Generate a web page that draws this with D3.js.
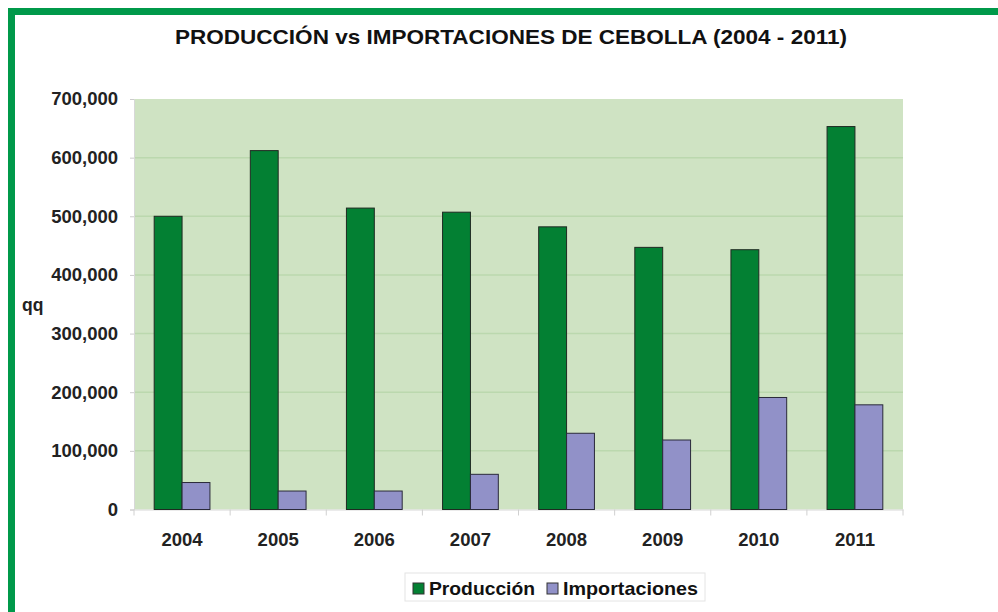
<!DOCTYPE html>
<html>
<head>
<meta charset="utf-8">
<script src="https://cdn.jsdelivr.net/npm/d3@7"></script>
<style>
  body { margin: 0; background: #fff; }
  text { font-family: "Liberation Sans", Arial, sans-serif; }
</style>
</head>
<body>
<svg id="chart" width="998" height="612"></svg>
<script>
// datos
var years = ["2004", "2005", "2006", "2007", "2008", "2009", "2010", "2011"];
var produccion = [500000, 612000, 514000, 507000, 482000, 447000, 443000, 653000];
var importaciones = [46000, 31500, 31500, 60000, 130000, 118500, 191000, 178500];
var yTicks = [0, 100000, 200000, 300000, 400000, 500000, 600000, 700000];
var seriesNames = ["Producción", "Importaciones"];
var seriesColors = ["#038033", "#9191c8"];

var svg = d3.select("#chart");

// marco verde
svg.append("rect")
  .attr("x", 11.5).attr("y", 11.5)
  .attr("width", 1000).attr("height", 700)
  .attr("fill", "none")
  .attr("stroke", "#00994a")
  .attr("stroke-width", 7);

var plotLeft = 134, plotRight = 903, plotTop = 99, plotBottom = 509.5;

var x = d3.scaleBand().domain(years).range([plotLeft, plotRight]).paddingInner(0.42).paddingOuter(0.21);
var xs = d3.scaleBand().domain([0, 1]).range([0, x.bandwidth()]);
var y = d3.scaleLinear().domain([0, 700000]).range([plotBottom, plotTop]);

// fondo del area
svg.append("rect")
  .attr("x", plotLeft).attr("y", plotTop)
  .attr("width", plotRight - plotLeft).attr("height", plotBottom - plotTop)
  .attr("fill", "#cfe3c3");

// lineas de grilla
svg.append("g")
  .selectAll("line")
  .data(yTicks.slice(1, -1))
  .enter().append("line")
  .attr("x1", plotLeft).attr("x2", plotRight)
  .attr("y1", function(d) { return y(d); })
  .attr("y2", function(d) { return y(d); })
  .attr("stroke", "#bbd8ae")
  .attr("stroke-width", 1.5);

// eje y
var yAxis = svg.append("g")
  .attr("transform", "translate(" + plotLeft + ",0)")
  .call(d3.axisLeft(y).tickValues(yTicks).tickSize(4).tickPadding(12).tickFormat(d3.format(",")));
yAxis.select(".domain").attr("stroke", "#d8d8d8");
yAxis.selectAll(".tick line").attr("stroke", "#cccccc");
yAxis.selectAll("text")
  .attr("font-size", 18.5).attr("font-weight", "bold").attr("fill", "#222");

// eje x con marcas entre categorias
var xAxis = svg.append("g")
  .attr("transform", "translate(0," + plotBottom + ")")
  .call(d3.axisBottom(x).tickSize(0).tickPadding(22));
xAxis.select(".domain").attr("stroke", "#d8d8d8");
xAxis.selectAll("text")
  .attr("dy", null).attr("y", 36)
  .attr("font-size", 18.5).attr("font-weight", "bold").attr("fill", "#222");

var step = x.step();
svg.append("g")
  .selectAll("line")
  .data(years.concat(["end"]))
  .enter().append("line")
  .attr("x1", function(d, i) { return plotLeft + i * step; })
  .attr("x2", function(d, i) { return plotLeft + i * step; })
  .attr("y1", plotBottom).attr("y2", plotBottom + 6)
  .attr("stroke", "#d0d0d0");

// barras
var groups = svg.append("g")
  .selectAll("g")
  .data(years)
  .enter().append("g")
  .attr("transform", function(d) { return "translate(" + x(d) + ",0)"; });

groups.append("rect")
  .attr("x", xs(0))
  .attr("y", function(d, i) { return y(produccion[i]); })
  .attr("width", xs.bandwidth())
  .attr("height", function(d, i) { return plotBottom - y(produccion[i]); })
  .attr("fill", seriesColors[0])
  .attr("stroke", "#1f2a22").attr("stroke-width", 1);

groups.append("rect")
  .attr("x", xs(1))
  .attr("y", function(d, i) { return y(importaciones[i]); })
  .attr("width", xs.bandwidth())
  .attr("height", function(d, i) { return plotBottom - y(importaciones[i]); })
  .attr("fill", seriesColors[1])
  .attr("stroke", "#2a2a3a").attr("stroke-width", 1);

// titulo
svg.append("text")
  .attr("x", 511).attr("y", 44)
  .attr("text-anchor", "middle")
  .attr("font-size", 21).attr("font-weight", "bold").attr("fill", "#111")
  .attr("textLength", 672).attr("lengthAdjust", "spacingAndGlyphs")
  .text("PRODUCCIÓN vs IMPORTACIONES DE CEBOLLA (2004 - 2011)");

// etiqueta eje y
svg.append("text")
  .attr("x", 22).attr("y", 311)
  .attr("font-size", 17.5).attr("font-weight", "bold").attr("fill", "#222")
  .text("qq");

// leyenda
var legend = svg.append("g").attr("transform", "translate(405,573)");
legend.append("rect")
  .attr("width", 300).attr("height", 28)
  .attr("fill", "#fff").attr("stroke", "#e4e4e4");
var legX = [8, 142];
var legW = [106, 135];
seriesNames.forEach(function(name, i) {
  legend.append("rect")
    .attr("x", legX[i]).attr("y", 10)
    .attr("width", 11).attr("height", 11)
    .attr("fill", seriesColors[i])
    .attr("stroke", "#333").attr("stroke-width", 1);
  legend.append("text")
    .attr("x", legX[i] + 16).attr("y", 21.5)
    .attr("font-size", 19).attr("font-weight", "bold").attr("fill", "#111")
    .attr("textLength", legW[i]).attr("lengthAdjust", "spacingAndGlyphs")
    .text(name);
});
</script>
</body>
</html>
